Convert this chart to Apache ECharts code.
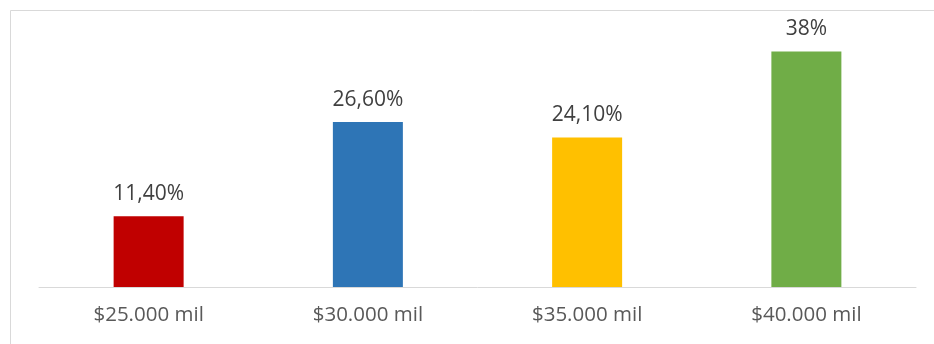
<!DOCTYPE html>
<html>
<head>
<meta charset="utf-8">
<script src="https://cdn.jsdelivr.net/npm/echarts@6/dist/echarts.min.js"></script>
<style>
  html, body { margin: 0; padding: 0; background: #ffffff; }
  #chart { width: 934px; height: 344px; }
</style>
</head>
<body>
<div id="chart"></div>
<script>
// Income brackets and the share for each one (percent)
const categories = ['$25.000 mil', '$30.000 mil', '$35.000 mil', '$40.000 mil'];
const shares = [11.4, 26.6, 24.1, 38];
const barColors = ['#c00000', '#2e75b6', '#ffc000', '#70ad47'];

function pctLabel(v) {
  return Number.isInteger(v) ? v + '%' : v.toFixed(2).replace('.', ',') + '%';
}

const chart = echarts.init(document.getElementById('chart'), null, { renderer: 'canvas' });
chart.setOption({
  animation: false,
  backgroundColor: '#ffffff',
  graphic: [{
    type: 'rect',
    shape: { x: 10.5, y: 10.5, width: 940, height: 360 },
    style: { fill: 'none', stroke: '#d9d9d9', lineWidth: 1 },
    silent: true
  }],
  grid: { left: 39, right: 18, top: 39, bottom: 57, containLabel: false },
  xAxis: {
    type: 'category',
    data: categories,
    axisLine: { lineStyle: { color: '#d9d9d9', width: 1 } },
    axisTick: { show: false },
    axisLabel: {
      color: '#595959',
      fontFamily: 'Open Sans',
      fontSize: 20.5,
      margin: 18
    }
  },
  yAxis: {
    type: 'value',
    min: 0,
    max: 40,
    show: false,
    splitLine: { show: false }
  },
  series: [{
    type: 'bar',
    barWidth: 70,
    data: shares.map((v, i) => ({ value: v, itemStyle: { color: barColors[i] } })),
    label: {
      show: true,
      position: 'top',
      distance: 12,
      color: '#404040',
      fontFamily: 'Open Sans',
      fontSize: 21,
      formatter: p => pctLabel(p.value)
    }
  }]
});
</script>
</body>
</html>
